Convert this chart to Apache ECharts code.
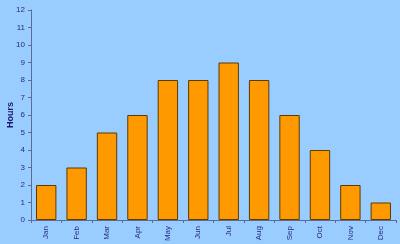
<!DOCTYPE html>
<html><head><meta charset="utf-8">
<script src="https://cdn.jsdelivr.net/npm/echarts@6/dist/echarts.min.js"></script>
<style>html,body{margin:0;padding:0;background:#99ccff}#c{width:400px;height:244px}</style>
</head><body><div id="c"></div>
<script>
const months = ['Jan','Feb','Mar','Apr','May','Jun','Jul','Aug','Sep','Oct','Nov','Dec'];
const hours = [2,3,5,6,8,8,9,8,6,4,2,1];
const yTicks = {min:0, max:12, interval:1};
const chart = echarts.init(document.getElementById('c'), null, {renderer:'canvas'});
chart.setOption({
  animation:false,
  backgroundColor:'#99ccff',
  grid:{left:31, right:4, top:10, bottom:24, containLabel:false, outerBoundsMode:'none'},
  xAxis:{type:'category', data:months,
    axisLine:{lineStyle:{color:'#5a6a9a', width:1}},
    axisTick:{show:true, length:3, lineStyle:{color:'#5a6a9a'}},
    axisLabel:{rotate:90, fontSize:8, color:'#2a2a80', fontFamily:'Liberation Sans', margin:6}
  },
  yAxis:{type:'value', min:yTicks.min, max:yTicks.max, interval:yTicks.interval,
    name:'Hours', nameLocation:'middle', nameGap:16, nameRotate:90, nameMoveOverlap:false,
    nameTextStyle:{fontSize:9, fontWeight:'bold', color:'#1a1a70', fontFamily:'Liberation Sans'},
    axisLine:{show:true, lineStyle:{color:'#5a6a9a', width:1}},
    axisTick:{show:true, length:3, lineStyle:{color:'#5a6a9a'}},
    splitLine:{show:false},
    axisLabel:{fontSize:8, color:'#2a2a80', fontFamily:'Liberation Sans', margin:6}
  },
  series:[{type:'bar', data:hours, barCategoryGap:'33%',
    itemStyle:{color:'#ff9900', borderColor:'#5c3a00', borderWidth:1}}]
});
</script></body></html>
